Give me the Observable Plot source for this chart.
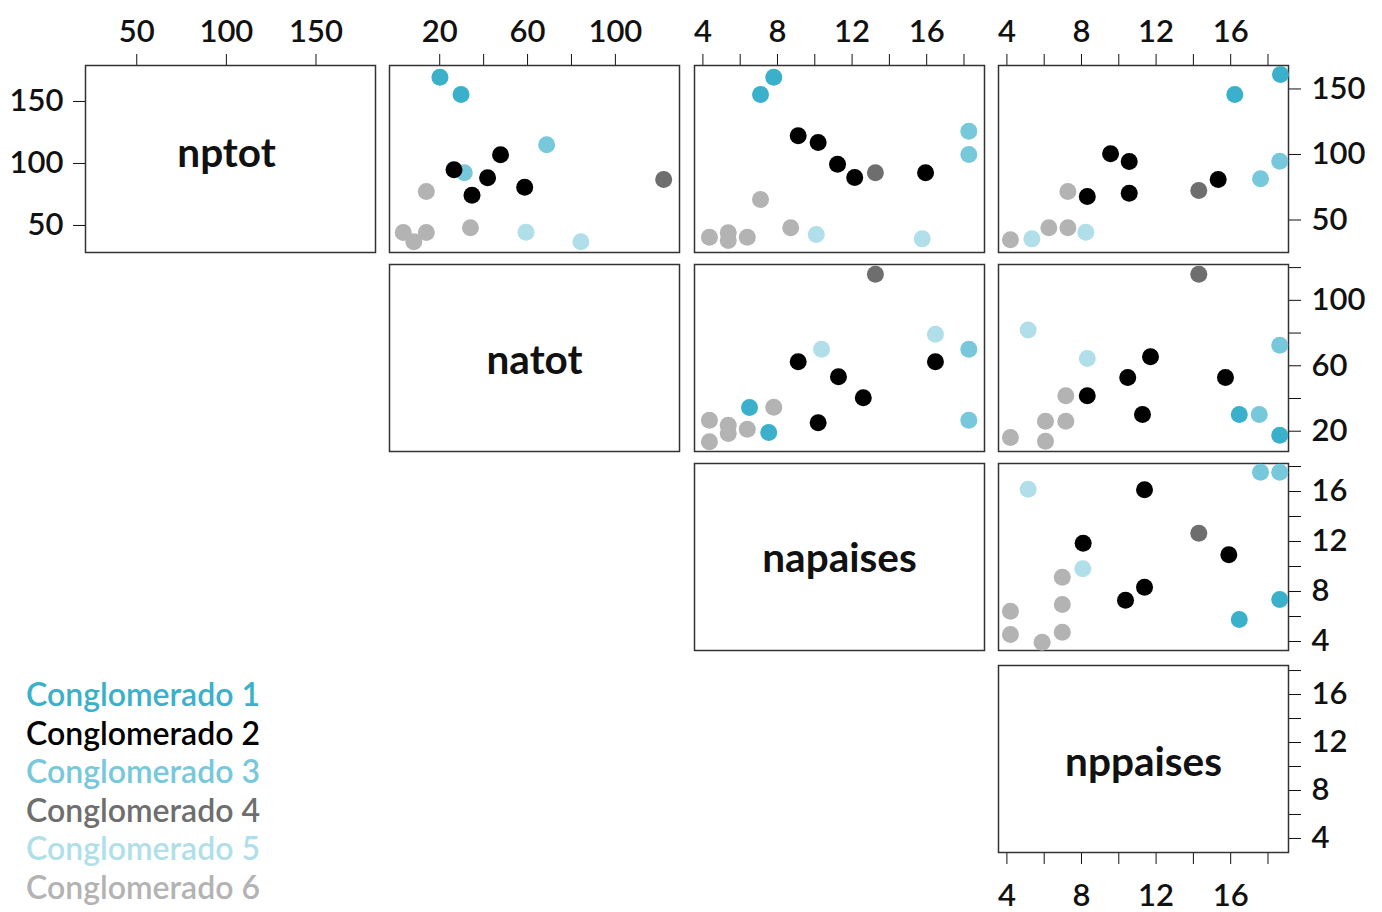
<!DOCTYPE html>
<html>
<head>
<meta charset="utf-8">
<script src="https://cdn.jsdelivr.net/npm/d3@7"></script>
<script src="https://cdn.jsdelivr.net/npm/@observablehq/plot@0.6"></script>
<style>
  html, body { margin: 0; padding: 0; background: #fff; }
  #chart { position: relative; width: 1382px; height: 912px; overflow: hidden; font-family: Lato, sans-serif; }
  #legend { position: absolute; left: 26px; top: 675px; font-family: Lato, sans-serif; font-size: 32px; font-weight: 600; line-height: 38.5px; }
</style>
</head>
<body>
<div id="chart"><div id="legend"></div></div>
<script>
// ---------------- data ----------------
const variables = ["nptot", "natot", "napaises", "nppaises"];
const clusters = ["Conglomerado 1", "Conglomerado 2", "Conglomerado 3", "Conglomerado 4", "Conglomerado 5", "Conglomerado 6"];
const clusterColors = ["#3AB0CA", "#000000", "#76C8DA", "#6E6E6E", "#B0DFEA", "#B3B3B3"];

// tick values and labelled ticks
const nptotTicks = [50, 100, 150];
const nptotLabels = [50, 100, 150];
const natotTopTicks = [20, 40, 60, 80, 100];
const natotSideTicks = [20, 40, 60, 80, 100, 120];
const natotLabels = [20, 60, 100];
const countTicks = [4, 6, 8, 10, 12, 14, 16, 18];
const countLabels = [4, 8, 12, 16];

// panel: x = natot, y = nptot
const p12_grupo = [1, 1, 3, 3, 2, 2, 2, 2, 2, 4, 5, 5, 6, 6, 6, 6, 6];
const p12_natot = [20.1, 29.7, 68.7, 31.2, 47.7, 26.5, 41.8, 58.7, 34.7, 122.0, 59.3, 84.3, 13.9, 3.4, 8.2, 13.9, 34.0];
const p12_nptot = [159.0, 145.8, 107.4, 86.0, 99.8, 88.3, 82.2, 75.0, 68.9, 80.9, 40.7, 33.4, 71.8, 40.5, 33.4, 40.5, 44.0];

// panel: x = napaises, y = nptot
const p13_grupo = [1, 1, 3, 3, 2, 2, 2, 2, 2, 4, 5, 5, 6, 6, 6, 6, 6, 6];
const p13_napaises = [7.80, 7.09, 18.26, 18.26, 9.11, 10.18, 11.22, 12.14, 15.94, 13.25, 10.08, 15.76, 7.09, 4.35, 5.36, 5.36, 6.38, 8.71];
const p13_nptot = [159.0, 145.8, 117.8, 100.0, 114.3, 109.2, 92.6, 82.4, 86.0, 86.0, 38.9, 35.6, 65.6, 36.9, 40.2, 34.4, 36.9, 44.0];

// panel: x = nppaises, y = nptot
const p14_grupo = [1, 1, 3, 3, 2, 2, 2, 2, 2, 4, 5, 5, 6, 6, 6, 6];
const p14_nppaises = [18.67, 16.22, 18.63, 17.60, 9.56, 10.56, 15.33, 8.31, 10.56, 14.29, 5.34, 8.23, 7.27, 4.19, 6.25, 7.27];
const p14_nptot = [161.1, 145.8, 94.9, 81.5, 100.5, 94.7, 80.9, 67.9, 70.5, 72.5, 35.6, 40.7, 71.8, 34.9, 44.0, 44.0];

// panel: x = napaises, y = natot
const p23_grupo = [1, 1, 3, 3, 2, 2, 2, 2, 2, 4, 5, 5, 6, 6, 6, 6, 6, 6];
const p23_napaises = [6.50, 7.53, 18.26, 18.26, 9.11, 16.47, 11.27, 12.60, 10.18, 13.25, 10.36, 16.47, 7.80, 4.35, 5.36, 5.36, 6.38, 4.35];
const p23_natot = [34.5, 19.2, 70.1, 26.7, 62.4, 62.4, 53.3, 40.4, 25.2, 116.0, 70.1, 79.3, 34.7, 26.7, 23.7, 18.6, 21.2, 13.5];

// panel: x = nppaises, y = natot
const p24_grupo = [1, 1, 3, 3, 2, 2, 2, 2, 2, 4, 5, 5, 6, 6, 6, 6, 6];
const p24_nppaises = [16.46, 18.63, 18.63, 17.53, 11.70, 10.48, 15.72, 8.31, 11.27, 14.29, 5.14, 8.31, 7.16, 6.07, 7.16, 4.19, 6.07];
const p24_natot = [30.2, 17.6, 72.6, 30.2, 65.5, 52.8, 52.8, 41.7, 30.2, 116.0, 81.8, 64.5, 41.7, 26.1, 26.1, 16.2, 13.9];

// panel: x = nppaises, y = napaises
const p34_grupo = [1, 1, 3, 3, 2, 2, 2, 2, 2, 4, 5, 5, 6, 6, 6, 6, 6, 6];
const p34_nppaises = [18.63, 16.46, 17.60, 18.63, 11.38, 8.09, 15.90, 11.38, 10.36, 14.29, 5.14, 8.07, 6.97, 4.19, 6.97, 4.19, 6.97, 5.89];
const p34_napaises = [7.36, 5.76, 17.54, 17.54, 16.14, 11.86, 10.94, 8.34, 7.30, 12.66, 16.18, 9.82, 9.14, 6.42, 6.96, 4.56, 4.74, 3.94];

// ---------------- layout ----------------
const colLeft = [85, 389, 694, 998];
const rowTop = [65, 264, 463, 665];
const W = 290, H = 187;
const M = {top: 64, right: 92, bottom: 60, left: 84};

// per-column x domains and per-row y domains
const xDomains = [[21.4, 183.2], [-2.87, 129.2], [3.55, 19.1], [3.55, 19.1]];
const yDomainFirst = [28.2, 179];
const yDomains = [[25.2, 167.9], [7.6, 121.9], [3.28, 18.24], [2.83, 18.42]];

const rows = (g, xs, ys) => g.map((k, i) => ({cluster: clusters[k - 1], x: xs[i], y: ys[i]}));

const chart = document.getElementById("chart");

function axisOpts(domain, axis, ticks, labels, pad) {
  const o = {domain, label: null, axis: axis || null};
  if (axis) {
    o.ticks = ticks;
    o.tickFormat = d => labels.includes(d) ? String(d) : "";
    o.tickSize = 12;
    o.tickPadding = pad;
  }
  return o;
}

function panel({row, col, data, name, nameDy = 2, nameDx = 0, xAxis, xTicks, xLabels, xPad, yAxis, yTicks, yLabels, yPad, yDomain}) {
  const marks = [Plot.frame({stroke: "#333", strokeWidth: 1.5})];
  if (data) marks.push(Plot.dot(data, {x: "x", y: "y", fill: "cluster", r: 8.5}));
  if (name) marks.push(Plot.text([name], {frameAnchor: "middle", text: d => d, fontSize: 40.5, fontWeight: 700, fill: "#111", dy: nameDy, dx: nameDx}));
  const svg = Plot.plot({
    width: W + M.left + M.right,
    height: H + M.top + M.bottom,
    marginTop: M.top, marginRight: M.right, marginBottom: M.bottom, marginLeft: M.left,
    x: axisOpts(xDomains[col], xAxis, xTicks, xLabels, xPad),
    y: axisOpts(yDomain || yDomains[row], yAxis, yTicks, yLabels, yPad),
    color: {domain: clusters, range: clusterColors},
    style: {fontFamily: "Lato, sans-serif", fontSize: "31px", fontWeight: 600, color: "#111", background: "transparent", overflow: "visible"},
    marks
  });
  svg.style.position = "absolute";
  svg.style.left = (colLeft[col] - M.left) + "px";
  svg.style.top = (rowTop[row] - M.top) + "px";
  svg.style.maxWidth = "none";
  chart.appendChild(svg);
}

// diagonal
panel({row: 0, col: 0, name: variables[0], nameDy: -5, nameDx: -4, yDomain: yDomainFirst,
  xAxis: "top", xTicks: nptotTicks, xLabels: nptotLabels, xPad: 12,
  yAxis: "left", yTicks: nptotTicks, yLabels: nptotLabels, yPad: 10});
panel({row: 1, col: 1, name: variables[1], nameDy: 3});
panel({row: 2, col: 2, name: variables[2], nameDy: 2});
panel({row: 3, col: 3, name: variables[3], nameDy: 4,
  xAxis: "bottom", xTicks: countTicks, xLabels: countLabels, xPad: 19,
  yAxis: "right", yTicks: countTicks, yLabels: countLabels, yPad: 11});

// upper triangle
panel({row: 0, col: 1, data: rows(p12_grupo, p12_natot, p12_nptot),
  xAxis: "top", xTicks: natotTopTicks, xLabels: natotLabels, xPad: 12});
panel({row: 0, col: 2, data: rows(p13_grupo, p13_napaises, p13_nptot),
  xAxis: "top", xTicks: countTicks, xLabels: countLabels, xPad: 12});
panel({row: 0, col: 3, data: rows(p14_grupo, p14_nppaises, p14_nptot),
  xAxis: "top", xTicks: countTicks, xLabels: countLabels, xPad: 12,
  yAxis: "right", yTicks: nptotTicks, yLabels: nptotLabels, yPad: 11});
panel({row: 1, col: 2, data: rows(p23_grupo, p23_napaises, p23_natot)});
panel({row: 1, col: 3, data: rows(p24_grupo, p24_nppaises, p24_natot),
  yAxis: "right", yTicks: natotSideTicks, yLabels: natotLabels, yPad: 11});
panel({row: 2, col: 3, data: rows(p34_grupo, p34_nppaises, p34_napaises),
  yAxis: "right", yTicks: countTicks, yLabels: countLabels, yPad: 11});

// legend
const legend = document.getElementById("legend");
clusters.forEach((c, i) => {
  const d = document.createElement("div");
  d.textContent = c;
  d.style.color = clusterColors[i];
  legend.appendChild(d);
});
</script>
</body>
</html>
